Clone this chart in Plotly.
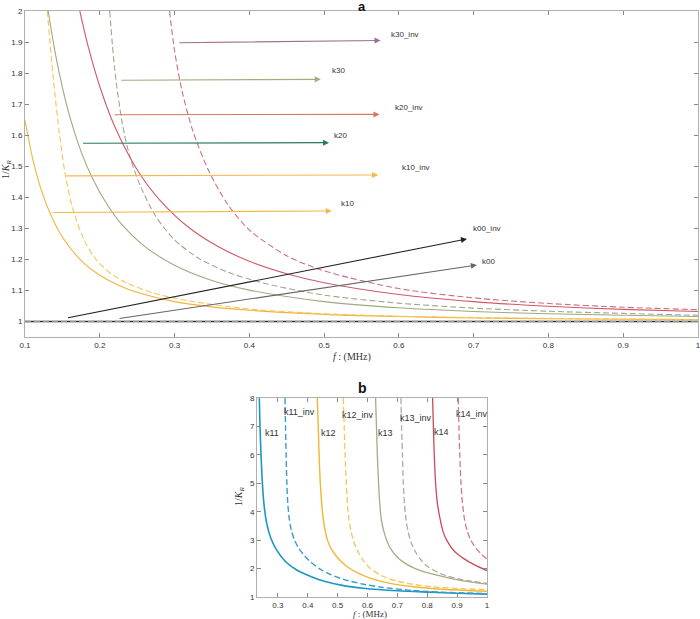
import plotly.graph_objects as go

# ---------------- Panel a data ----------------
k10_f = [0.1, 0.11, 0.12, 0.13, 0.14, 0.15, 0.165, 0.18, 0.2, 0.225, 0.25, 0.3, 0.35, 0.4, 0.5, 0.6, 0.7, 0.8, 0.9, 1.0]
k10_y = [1.648, 1.527, 1.437, 1.369, 1.315, 1.272, 1.223, 1.185, 1.149, 1.117, 1.094, 1.064, 1.047, 1.036, 1.023, 1.016, 1.011, 1.009, 1.007, 1.006]

k10inv_f = [0.1298, 0.1378, 0.1467, 0.1542, 0.1644, 0.18, 0.1956, 0.215, 0.2356, 0.271, 0.32, 0.4, 0.5, 0.6, 0.7, 0.8, 0.9, 1.0]
k10inv_y = [2.0, 1.783, 1.592, 1.469, 1.359, 1.258, 1.198, 1.154, 1.125, 1.092, 1.066, 1.040, 1.025, 1.017, 1.013, 1.010, 1.008, 1.006]

k20_f = [0.131, 0.14, 0.15, 0.16, 0.175, 0.19, 0.21, 0.23, 0.26, 0.3, 0.35, 0.4, 0.5, 0.6, 0.7, 0.8, 0.9, 1.0]
k20_y = [2.0, 1.870, 1.754, 1.659, 1.547, 1.462, 1.376, 1.311, 1.242, 1.181, 1.132, 1.101, 1.064, 1.044, 1.032, 1.025, 1.020, 1.016]

k20inv_f = [0.2133, 0.22, 0.23, 0.24, 0.255, 0.275, 0.3, 0.33, 0.37, 0.42, 0.5, 0.6, 0.7, 0.8, 0.9, 1.0]
k20inv_y = [2.0, 1.812, 1.640, 1.533, 1.433, 1.338, 1.263, 1.207, 1.160, 1.123, 1.085, 1.059, 1.043, 1.033, 1.026, 1.020]

k30_f = [0.1733, 0.185, 0.2, 0.22, 0.25, 0.28, 0.32, 0.36, 0.4, 0.45, 0.5, 0.6, 0.7, 0.8, 0.9, 1.0]
k30_y = [2.0, 1.881, 1.757, 1.628, 1.489, 1.392, 1.301, 1.239, 1.194, 1.154, 1.125, 1.087, 1.064, 1.049, 1.039, 1.032]

k30inv_f = [0.2933, 0.30, 0.31, 0.325, 0.345, 0.37, 0.4, 0.45, 0.5, 0.6, 0.7, 0.8, 0.9, 1.0]
k30inv_y = [2.0, 1.873, 1.743, 1.610, 1.489, 1.381, 1.295, 1.212, 1.163, 1.106, 1.076, 1.058, 1.046, 1.038]

k00_f = [0.1, 1.0]
k00_y = [1.0, 1.0]

# arrows: label, tail (f, y), head (f, y), label position (f, y)
arrow_labels = ["k30_inv", "k30", "k20_inv", "k20", "k10_inv", "k10", "k00_inv", "k00"]
arrow_tail_f = [0.3044, 0.2267, 0.2178, 0.1756, 0.1533, 0.1356, 0.1556, 0.2244]
arrow_tail_y = [1.898, 1.777, 1.666, 1.574, 1.469, 1.351, 1.011, 1.009]
arrow_head_f = [0.5756, 0.4956, 0.5742, 0.5067, 0.5724, 0.5103, 0.6911, 0.7044]
arrow_head_y = [1.905, 1.780, 1.667, 1.576, 1.472, 1.356, 1.266, 1.182]
label_f = [0.587, 0.508, 0.592, 0.510, 0.602, 0.520, 0.697, 0.708]
label_y = [1.925, 1.808, 1.690, 1.600, 1.495, 1.380, 1.300, 1.192]
arrow_colors = ["#A07090", "#9FAF80", "#D4785E", "#2A7A5E", "#F4B94A", "#F4B94A", "#222222", "#666666"]

# ---------------- Panel b data ----------------
k11_f = [0.2377, 0.24, 0.2435, 0.248, 0.253, 0.2625, 0.277, 0.296, 0.325, 0.363, 0.41, 0.452, 0.52, 0.586, 0.7, 0.809, 0.9, 1.0]
k11_y = [8.0, 7.0, 6.0, 5.0, 4.3, 3.59, 3.05, 2.65, 2.25, 1.95, 1.72, 1.56, 1.40, 1.31, 1.22, 1.17, 1.13, 1.10]

k11inv_f = [0.3237, 0.3255, 0.3275, 0.330, 0.333, 0.338, 0.345, 0.355, 0.368, 0.385, 0.407, 0.44, 0.474, 0.52, 0.586, 0.65, 0.75, 0.85, 1.0]
k11inv_y = [8.0, 7.0, 6.0, 5.0, 4.3, 3.75, 3.35, 3.02, 2.75, 2.5, 2.26, 1.99, 1.8, 1.62, 1.45, 1.34, 1.23, 1.17, 1.12]

k12_f = [0.432, 0.435, 0.438, 0.442, 0.447, 0.452, 0.458, 0.466, 0.478, 0.50, 0.53, 0.57, 0.619, 0.68, 0.753, 0.85, 1.0]
k12_y = [8.0, 7.0, 6.0, 5.0, 4.25, 3.75, 3.35, 3.0, 2.7, 2.38, 2.08, 1.83, 1.63, 1.47, 1.36, 1.27, 1.20]

k12inv_f = [0.519, 0.522, 0.525, 0.529, 0.533, 0.538, 0.545, 0.555, 0.568, 0.585, 0.608, 0.65, 0.698, 0.75, 0.809, 0.9, 1.0]
k12inv_y = [8.0, 7.0, 6.0, 5.0, 4.25, 3.72, 3.3, 2.92, 2.6, 2.3, 2.02, 1.74, 1.56, 1.45, 1.37, 1.30, 1.26]

k13_f = [0.627, 0.630, 0.633, 0.637, 0.641, 0.646, 0.655, 0.667, 0.68, 0.70, 0.725, 0.76, 0.809, 0.86, 0.92, 1.0]
k13_y = [8.0, 7.0, 6.0, 5.0, 4.3, 3.75, 3.3, 2.92, 2.66, 2.40, 2.19, 2.0, 1.83, 1.70, 1.57, 1.45]

k13inv_f = [0.712, 0.714, 0.717, 0.72, 0.724, 0.729, 0.736, 0.746, 0.76, 0.778, 0.80, 0.85, 0.9, 0.95, 1.0]
k13inv_y = [8.0, 7.0, 6.0, 5.0, 4.25, 3.72, 3.3, 2.92, 2.6, 2.32, 2.08, 1.8, 1.65, 1.55, 1.48]

k14_f = [0.818, 0.8205, 0.8235, 0.828, 0.834, 0.843, 0.853, 0.865, 0.89, 0.921, 0.96, 1.0]
k14_y = [8.0, 7.0, 6.0, 5.0, 4.3, 3.75, 3.3, 3.0, 2.62, 2.36, 2.12, 1.93]

k14inv_f = [0.904, 0.906, 0.909, 0.913, 0.918, 0.925, 0.934, 0.945, 0.96, 0.98, 1.0]
k14inv_y = [8.0, 7.0, 6.0, 5.0, 4.3, 3.72, 3.32, 3.02, 2.76, 2.52, 2.33]

b_labels = ["k11", "k11_inv", "k12", "k12_inv", "k13", "k13_inv", "k14", "k14_inv"]
b_label_f = [0.280, 0.372, 0.468, 0.568, 0.660, 0.761, 0.849, 0.951]
b_label_y = [6.77, 7.50, 6.77, 7.40, 6.77, 7.30, 6.80, 7.44]

a_xticks = [0.1, 0.2, 0.3, 0.4, 0.5, 0.6, 0.7, 0.8, 0.9, 1.0]
a_xticktext = ["0.1", "0.2", "0.3", "0.4", "0.5", "0.6", "0.7", "0.8", "0.9", "1"]
a_yticks = [1, 1.1, 1.2, 1.3, 1.4, 1.5, 1.6, 1.7, 1.8, 1.9, 2]
a_yticktext = ["1", "1.1", "1.2", "1.3", "1.4", "1.5", "1.6", "1.7", "1.8", "1.9", "2"]
b_xticks = [0.3, 0.4, 0.5, 0.6, 0.7, 0.8, 0.9, 1.0]
b_xticktext = ["0.3", "0.4", "0.5", "0.6", "0.7", "0.8", "0.9", "1"]
b_yticks = [1, 2, 3, 4, 5, 6, 7, 8]

fig = go.Figure()
DASH = "6px,3px"

def add(fx, fy, color, dash, axis, width=1.1):
    fig.add_trace(go.Scatter(
        x=fx, y=fy, mode="lines",
        line=dict(color=color, dash=dash, width=width, shape="spline", smoothing=0.8),
        xaxis="x" if axis == 1 else "x2", yaxis="y" if axis == 1 else "y2",
        showlegend=False, hoverinfo="skip"))

# panel a
add(k00_f, k00_y, "#333333", "solid", 1, 1.3)
add(k00_f, k00_y, "#999999", DASH, 1, 1.3)
add(k10_f, k10_y, "#F0B43C", "solid", 1)
add(k10inv_f, k10inv_y, "#F5C45A", DASH, 1)
add(k20_f, k20_y, "#9DAA7E", "solid", 1)
add(k20inv_f, k20inv_y, "#A3A592", DASH, 1)
add(k30_f, k30_y, "#CF5A66", "solid", 1)
add(k30inv_f, k30inv_y, "#C8707E", DASH, 1)

# panel b
add(k11_f, k11_y, "#1E95C8", "solid", 2, 1.6)
add(k11inv_f, k11inv_y, "#3A9CC8", DASH, 2, 1.4)
add(k12_f, k12_y, "#F2B732", "solid", 2, 1.4)
add(k12inv_f, k12inv_y, "#F5C45A", DASH, 2, 1.3)
add(k13_f, k13_y, "#A3AC86", "solid", 2, 1.3)
add(k13inv_f, k13inv_y, "#B5A7A2", DASH, 2, 1.3)
add(k14_f, k14_y, "#C94B5B", "solid", 2, 1.3)
add(k14inv_f, k14inv_y, "#C97B8A", DASH, 2, 1.3)

annotations = []
for i, lab in enumerate(arrow_labels):
    annotations.append(dict(
        x=arrow_head_f[i], y=arrow_head_y[i], ax=arrow_tail_f[i], ay=arrow_tail_y[i],
        xref="x", yref="y", axref="x", ayref="y", text="", showarrow=True,
        arrowhead=2, arrowsize=1.1, arrowwidth=1.1, arrowcolor=arrow_colors[i], standoff=0))
    annotations.append(dict(
        x=label_f[i], y=label_y[i], xref="x", yref="y", text=lab, showarrow=False,
        xanchor="left", yanchor="middle", font=dict(size=8, color="#333333", family="Liberation Sans")))
for i, lab in enumerate(b_labels):
    annotations.append(dict(
        x=b_label_f[i], y=b_label_y[i], xref="x2", yref="y2", text=lab, showarrow=False,
        xanchor="center", yanchor="middle", font=dict(size=9, color="#333333", family="Liberation Sans")))

serif = "Liberation Serif"
annotations += [
    dict(x=362 / 700, y=(619 - 6) / 619, xref="paper", yref="paper", text="<b>a</b>", showarrow=False,
         xanchor="center", yanchor="middle", font=dict(size=13, color="#111", family="Liberation Sans")),
    dict(x=362 / 700, y=(619 - 388) / 619, xref="paper", yref="paper", text="<b>b</b>", showarrow=False,
         xanchor="center", yanchor="middle", font=dict(size=14, color="#111", family="Liberation Sans")),
    dict(x=7 / 700, y=(619 - 170) / 619, xref="paper", yref="paper", text="1/<i>K</i><sub><i>R</i></sub>",
         showarrow=False, textangle=-90, xanchor="center", yanchor="middle",
         font=dict(size=10, color="#333", family=serif)),
    dict(x=352 / 700, y=(619 - 357) / 619, xref="paper", yref="paper", text="<i>f</i> : (MHz)",
         showarrow=False, xanchor="center", yanchor="middle", font=dict(size=10, color="#333", family=serif)),
    dict(x=239 / 700, y=(619 - 497) / 619, xref="paper", yref="paper", text="1/<i>K</i><sub><i>R</i></sub>",
         showarrow=False, textangle=-90, xanchor="center", yanchor="middle",
         font=dict(size=10, color="#333", family=serif)),
    dict(x=370 / 700, y=(619 - 614) / 619, xref="paper", yref="paper", text="<i>f</i> : (MHz)",
         showarrow=False, xanchor="center", yanchor="middle", font=dict(size=9, color="#333", family=serif)),
]

axis_common = dict(showline=True, linecolor="#B0B0B0", linewidth=1, mirror="ticks", ticks="inside",
                   ticklen=4, tickcolor="#8A8A8A", showgrid=False, zeroline=False, ticklabeloverflow="allow",
                   tickfont=dict(size=8, color="#333333", family="Liberation Sans"), automargin=False)

fig.update_layout(
    width=700, height=619, margin=dict(l=0, r=0, t=0, b=0),
    paper_bgcolor="white", plot_bgcolor="white", showlegend=False,
    xaxis=dict(domain=[25 / 700, 698 / 700], range=[0.1, 1.0001], tickvals=a_xticks, ticktext=a_xticktext,
               anchor="y", **axis_common),
    yaxis=dict(domain=[(619 - 337) / 619, (619 - 11) / 619], range=[0.95, 2.0001], tickvals=a_yticks,
               ticktext=a_yticktext, anchor="x", **axis_common),
    xaxis2=dict(domain=[257 / 700, 487 / 700], range=[0.23, 1.0001], tickvals=b_xticks, ticktext=b_xticktext,
                anchor="y2", **axis_common),
    yaxis2=dict(domain=[(619 - 597) / 619, (619 - 398) / 619], range=[1, 8.0001], tickvals=b_yticks,
                anchor="x2", **axis_common),
    annotations=annotations,
)

fig.write_html("out.html", config={"displayModeBar": False},
               post_script="document.body.style.margin='0px';")
